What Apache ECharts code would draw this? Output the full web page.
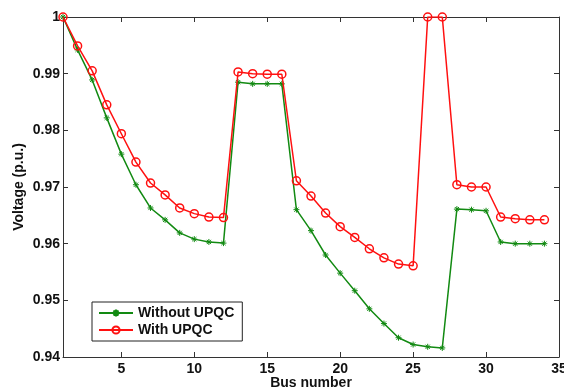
<!DOCTYPE html>
<html>
<head>
<meta charset="utf-8">
<script src="https://cdn.jsdelivr.net/npm/echarts@6/dist/echarts.min.js"></script>
<style>
  html, body { margin: 0; padding: 0; background: #fff; }
  #chart { width: 564px; height: 390px; }
</style>
</head>
<body>
<div id="chart"></div>
<script>
const busNumbers = [1, 2, 3, 4, 5, 6, 7, 8, 9, 10, 11, 12, 13, 14, 15, 16, 17,
  18, 19, 20, 21, 22, 23, 24, 25, 26, 27, 28, 29, 30, 31, 32, 33, 34]

const withoutUpqc = [1.0, 0.9942, 0.9889, 0.9822, 0.9758, 0.9704, 0.9663, 0.9642,
  0.9619, 0.9608, 0.9603, 0.9601, 0.9885, 0.9882, 0.9882, 0.9882, 0.9660,
  0.9623, 0.9580, 0.9548, 0.9517, 0.9485, 0.9459, 0.9434, 0.9422, 0.9418,
  0.9416, 0.9661, 0.9660, 0.9658, 0.9603, 0.9600, 0.9600, 0.9600]

const withUpqc = [1.0, 0.9949, 0.9905, 0.9845, 0.9794, 0.9744, 0.9707, 0.9686,
  0.9663, 0.9653, 0.9647, 0.9646, 0.9903, 0.9900, 0.9899, 0.9899, 0.9711,
  0.9684, 0.9654, 0.9630, 0.9611, 0.9591, 0.9575, 0.9564, 0.9561, 1.0,
  1.0, 0.9704, 0.9700, 0.9700, 0.9647, 0.9644, 0.9642, 0.9642]

// x tick positions (the axis itself starts at bus 1)
const xTicks = [5, 10, 15, 20, 25, 30, 35]

const pairs = (vals) => busNumbers.map((b, i) => [b, vals[i]])

const font = "Liberation Sans, Arial, sans-serif"
const axisColor = "#333"
const green = "#128a12"
const red = "#ff1010"

const chart = echarts.init(document.getElementById("chart"))

const frameAxis = {
  axisLine: { lineStyle: { color: axisColor, width: 1 } },
  axisTick: { inside: true, length: 5, lineStyle: { color: axisColor } },
  splitLine: { show: false },
}

const labelText = { fontFamily: font, fontWeight: "bold", fontSize: 14, color: "#111" }

const option = {
  backgroundColor: "#fff",
  animation: false,
  grid: { left: 63, right: 5, top: 17, bottom: 33, outerBoundsMode: "none", containLabel: false },
  legend: {
    orient: "vertical",
    left: 92,
    top: 302,
    itemWidth: 34,
    itemHeight: 9,
    itemGap: 3,
    padding: [4, 8, 4, 6],
    borderColor: "#222",
    borderWidth: 1,
    textStyle: labelText,
    data: ["Without UPQC", "With UPQC"],
  },
  xAxis: [
    {
      ...frameAxis,
      type: "value",
      min: 1,
      max: 35,
      name: "Bus number",
      nameLocation: "middle",
      nameGap: 19,
      nameMoveOverlap: false,
      nameTextStyle: labelText,
      axisTick: { ...frameAxis.axisTick, customValues: xTicks },
      axisLabel: { ...labelText, margin: 5, customValues: xTicks },
    },
    {
      ...frameAxis,
      type: "value",
      position: "top",
      min: 1,
      max: 35,
      axisTick: { ...frameAxis.axisTick, customValues: xTicks },
      axisLabel: { show: false },
    },
  ],
  yAxis: [
    {
      ...frameAxis,
      type: "value",
      min: 0.94,
      max: 1,
      interval: 0.01,
      name: "Voltage (p.u.)",
      nameLocation: "middle",
      nameGap: 37,
      nameMoveOverlap: false,
      nameTextStyle: labelText,
      axisLabel: { ...labelText, margin: 3 },
    },
    {
      ...frameAxis,
      type: "value",
      position: "right",
      min: 0.94,
      max: 1,
      interval: 0.01,
      axisLabel: { show: false },
    },
  ],
  series: [
    {
      name: "Without UPQC",
      type: "line",
      data: pairs(withoutUpqc),
      symbol: "path://M0,5L10,5M5,0L5,10M1.5,1.5L8.5,8.5M8.5,1.5L1.5,8.5",
      symbolSize: 6,
      lineStyle: { color: green, width: 1.5 },
      itemStyle: { color: green, borderColor: green, borderWidth: 1 },
      z: 2,
    },
    {
      name: "With UPQC",
      type: "line",
      data: pairs(withUpqc),
      symbol: "circle",
      symbolSize: 8,
      lineStyle: { color: red, width: 1.5 },
      itemStyle: { color: "rgba(255,255,255,0)", borderColor: red, borderWidth: 1.5 },
      z: 3,
    },
  ],
}

chart.setOption(option)
</script>
</body>
</html>
